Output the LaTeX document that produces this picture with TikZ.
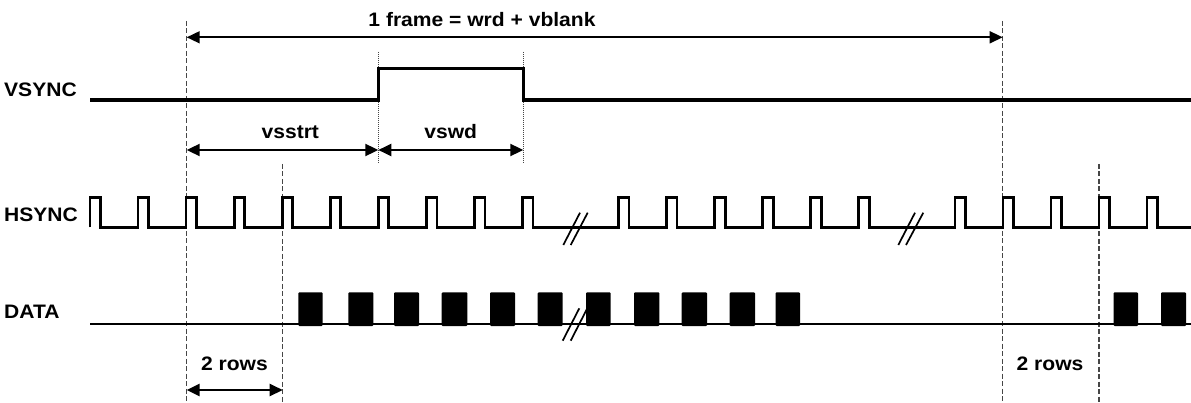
\documentclass[tikz,border=0pt]{standalone}
\usepackage{fontspec}
\setmainfont{Liberation Sans}[FakeStretch=1.08]
\usetikzlibrary{arrows.meta}
\definecolor{guidegray}{RGB}{70,70,70}
\begin{document}
\begin{tikzpicture}[x=1pt,y=-1pt,
  lbl/.style={font=\fontsize{19.5}{22}\selectfont\bfseries, inner sep=0pt, anchor=base},
  sig/.style={line width=2.7pt, line join=miter},
  vsig/.style={line width=3.2pt, line join=miter},
  dsig/.style={line width=2.8pt},
  guide/.style={draw=guidegray, line width=1.3pt, dash pattern=on 5pt off 2.5pt},
  dotguide/.style={draw=guidegray, line width=1.3pt, dash pattern=on 1pt off 1pt},
  dim/.style={{Triangle[length=13pt,width=12pt]}-{Triangle[length=13pt,width=12pt]}, line width=2pt},
  brk/.style={line width=1.7pt},
  blk/.style={fill=black, rounded corners=1pt}]
\useasboundingbox (0,0) rectangle (1191,403);

% guide lines
\coordinate (gL) at (186.7,21);   \coordinate (gLb) at (186.7,403);
\coordinate (gR) at (1002.7,21);  \coordinate (gRb) at (1002.7,403);
\coordinate (g2L) at (282.7,164); \coordinate (g2Lb) at (282.7,403);
\coordinate (g2R) at (1099,164);  \coordinate (g2Rb) at (1099,403);
\coordinate (dA) at (378.3,52);   \coordinate (dAb) at (378.3,164);
\coordinate (dB) at (523.3,52);   \coordinate (dBb) at (523.3,164);
\draw[guide] (gL) -- (gLb);
\draw[guide] (gR) -- (gRb);
\draw[guide] (g2L) -- (g2Lb);
\draw[guide] (g2R) -- (g2Rb);
\draw[dotguide] (dA) -- (dAb);
\draw[dotguide] (dB) -- (dBb);

% labels
\node[lbl, anchor=base west] (vs) at (4,96.7) {VSYNC};
\node[lbl, anchor=base west] (hs) at (4,221.7) {HSYNC};
\node[lbl, anchor=base west] (da) at (4,318) {DATA};
\node[lbl] (fr) at (482,27) {1 frame = wrd + vblank};
\node[lbl] (vst) at (290.3,138.3) {vsstrt};
\node[lbl] (vsw) at (450.7,138.3) {vswd};
\node[lbl] (r1) at (234.5,370) {2 rows};
\node[lbl] (r2) at (1050,370) {2 rows};

% dimension arrows
\coordinate (fa) at (186.7,37.3); \coordinate (fb) at (1002.7,37.3);
\draw[dim, line width=1.6pt] (fa) -- (fb);
\coordinate (sa) at (186.7,150); \coordinate (sb) at (378.3,150); \coordinate (sc) at (523.3,150);
\draw[dim] (sa) -- (sb);
\draw[dim] (sb) -- (sc);
\coordinate (ra) at (186.7,390); \coordinate (rb) at (282.7,390);
\draw[dim, line width=2.6pt] (ra) -- (rb);

% VSYNC
\draw[vsig] (90,100) -- (378.3,100) -- (378.3,68.3) -- (523.3,68.3) -- (523.3,100) -- (1191,100);

% HSYNC
\draw[sig] (90,227.3)
  \foreach \k in {0,1,2,3,4,5,6,7,8,9,11,12,13,14,15,16,18,19,20,21,22} {
    -- ({90+48.05*\k},227.3) -- ({90+48.05*\k},197.3) -- ({100.5+48.05*\k},197.3) -- ({100.5+48.05*\k},227.3)
  } -- (1191,227.3);
\draw[brk] (563.3,245) -- (580,212.7);
\draw[brk] (570.7,245) -- (587.7,212.7);
\draw[brk] (898.3,245) -- (915,212.7);
\draw[brk] (906,245) -- (923.3,212.7);

% DATA
\draw[dsig] (90,324) -- (1191,324);
\foreach \a/\b in {298.3/322.7, 348.3/373.3, 394/419, 441.7/467.3, 490/515, 537.7/562.7, 586/610.7, 634/659.3, 681.7/707, 729.7/755, 775.6/800, 1113.5/1138, 1161/1186}
  \fill[blk] (\a,292.3) rectangle (\b,326);
\draw[brk] (562.7,340.7) -- (579.3,308.3);
\draw[brk] (570.7,340.7) -- (587.3,308.3);
\end{tikzpicture}
\end{document}
